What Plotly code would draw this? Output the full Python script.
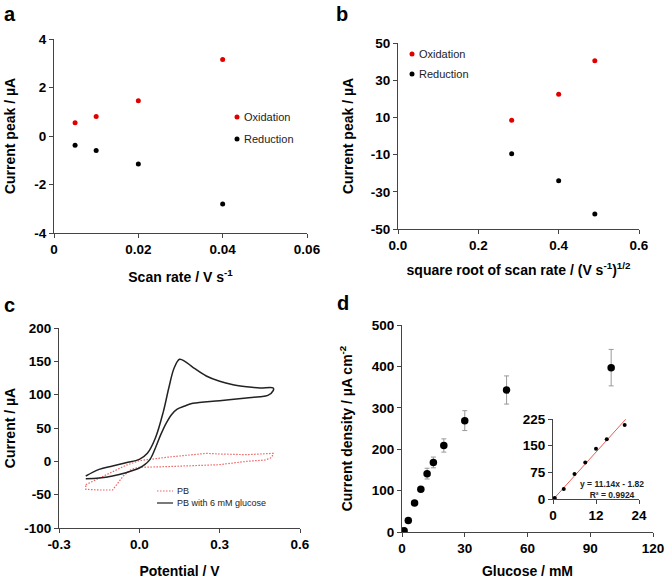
import plotly.graph_objects as go

# panel a - peak current vs scan rate
scan_rate = [0.005, 0.01, 0.02, 0.04]
ox_a = [0.55, 0.8, 1.45, 3.15]
red_a = [-0.38, -0.6, -1.15, -2.8]

# panel b - peak current vs sqrt(scan rate)
sqrt_rate = [0.283, 0.4, 0.49]
ox_b = [8.5, 22.5, 40.5]
red_b = [-9.5, -24.0, -42.0]

# panel c - cyclic voltammograms
pb_E = [-0.2, -0.15, -0.1, -0.05, 0.0, 0.05, 0.1, 0.15, 0.2, 0.25, 0.3, 0.35, 0.4, 0.45, 0.5,
        0.5, 0.49, 0.47, 0.4, 0.3, 0.2, 0.1, 0.0, -0.03, -0.06, -0.09, -0.1, -0.15, -0.2, -0.2]
pb_I = [-35, -25, -15, -6, 1, 4, 6, 8, 10, 12, 11, 10, 10, 11, 12,
        10, 5, 2, 0, -5, -7, -8, -9, -12, -22, -38, -43, -43, -42, -35]
glu_E = [-0.2, -0.15, -0.1, -0.05, 0.0, 0.03, 0.06, 0.09, 0.11, 0.13, 0.15, 0.17, 0.2, 0.25,
         0.3, 0.35, 0.4, 0.45, 0.5,
         0.5, 0.48, 0.45, 0.4, 0.3, 0.2, 0.17, 0.14, 0.12, 0.1, 0.08, 0.06, 0.04, 0.02, 0.0,
         -0.05, -0.1, -0.15, -0.2]
glu_I = [-22, -12, -7, -2, 3, 12, 35, 75, 110, 140, 153, 150, 141, 128,
         120, 115, 112, 110, 110,
         106, 99, 97, 95, 91, 87, 83, 78, 70, 57, 40, 20, 3, -5, -10,
         -17, -22, -25, -26]

# panel d - calibration
glucose = [0, 1, 3, 6, 9, 12, 15, 20, 30, 50, 100]
density = [2, 3, 28, 70, 103, 141, 168, 209, 269, 343, 397]
density_err = [0, 0, 0, 0, 0, 13, 13, 16, 24, 34, 44]
inset_x = [0, 0.5, 3, 6, 9, 12, 15, 20]
inset_y = [1, 3, 28, 70, 103, 141, 168, 208]
fit_slope, fit_icpt = 11.14, -1.82
fit_x = [0, 20.3]

# tick values / labels (plain hyphen minus as in the original)
a_xt = [0, 0.02, 0.04, 0.06]
a_xl = ["0", "0.02", "0.04", "0.06"]
a_yt = [-4, -2, 0, 2, 4]
a_yl = ["-4", "-2", "0", "2", "4"]
b_xt = [0, 0.2, 0.4, 0.6]
b_xl = ["0.0", "0.2", "0.4", "0.6"]
b_yt = [-50, -30, -10, 10, 30, 50]
b_yl = ["-50", "-30", "-10", "10", "30", "50"]
c_xt = [-0.3, 0, 0.3, 0.6]
c_xl = ["-0.3", "0.0", "0.3", "0.6"]
c_yt = [-100, -50, 0, 50, 100, 150, 200]
c_yl = ["-100", "-50", "0", "50", "100", "150", "200"]
d_xt = [0, 30, 60, 90, 120]
d_yt = [0, 100, 200, 300, 400, 500]
i_xt = [0, 12, 24]
i_yt = [0, 75, 150, 225]

FONT = "Arial, Liberation Sans, sans-serif"
RED = "#e00000"
W, H = 666, 579


def px(x0, x1, y0, y1):
    # convert pixel box into paper domains
    return [x0 / W, x1 / W], [1 - y1 / H, 1 - y0 / H]


fig = go.Figure()

fig.add_trace(go.Scatter(x=scan_rate, y=ox_a, mode="markers", name="Oxidation",
                         marker=dict(color=RED, size=5), xaxis="x", yaxis="y"))
fig.add_trace(go.Scatter(x=scan_rate, y=red_a, mode="markers", name="Reduction",
                         marker=dict(color="black", size=5), xaxis="x", yaxis="y"))

fig.add_trace(go.Scatter(x=sqrt_rate, y=ox_b, mode="markers", name="Oxidation",
                         marker=dict(color=RED, size=5), xaxis="x2", yaxis="y2"))
fig.add_trace(go.Scatter(x=sqrt_rate, y=red_b, mode="markers", name="Reduction",
                         marker=dict(color="black", size=5), xaxis="x2", yaxis="y2"))

PB_DASH = "1.5px,1.5px"
fig.add_trace(go.Scatter(x=pb_E, y=pb_I, mode="lines", name="PB",
                         line=dict(color="#f06060", width=1.2, dash=PB_DASH),
                         xaxis="x3", yaxis="y3"))
fig.add_trace(go.Scatter(x=glu_E, y=glu_I, mode="lines", name="PB with 6 mM glucose",
                         line=dict(color="#222222", width=1.5, shape="spline"),
                         xaxis="x3", yaxis="y3"))

fig.add_trace(go.Scatter(x=glucose, y=density, mode="markers",
                         marker=dict(color="black", size=7.5),
                         error_y=dict(type="data", array=density_err, color="#999999",
                                      thickness=1, width=2.5),
                         xaxis="x4", yaxis="y4"))

fig.add_trace(go.Scatter(x=fit_x, y=[fit_slope * v + fit_icpt for v in fit_x], mode="lines",
                         line=dict(color="#ee5a50", width=1), xaxis="x5", yaxis="y5"))
fig.add_trace(go.Scatter(x=inset_x, y=inset_y, mode="markers",
                         marker=dict(color="black", size=4), xaxis="x5", yaxis="y5"))

tick_font = dict(family=FONT, size=13.5, color="black", weight="bold")
title_font = dict(family=FONT, size=14, color="black", weight="bold")


def ax(dom, anchor, rng, tv, tl=None, title=None, standoff=6):
    d = dict(domain=dom, anchor=anchor, range=rng, tickvals=tv,
             ticktext=tl if tl else [str(v) for v in tv],
             showgrid=False, zeroline=False, showline=True, linecolor="#444444",
             linewidth=1, ticks="outside", ticklen=4, tickcolor="#444444",
             tickfont=tick_font, automargin=False)
    if title:
        d["title"] = dict(text=title, font=title_font, standoff=standoff)
    return d


xa, ya = px(54, 307, 39, 233)
xb, yb = px(398, 639, 43, 229)
xc, yc = px(59, 300, 328, 528)
xd, yd = px(402, 653, 325, 532)
xi, yi = px(553, 639, 419, 499)

fig.update_layout(
    width=W, height=H, margin=dict(l=0, r=0, t=0, b=0),
    plot_bgcolor="white", paper_bgcolor="white", showlegend=False,
    font=dict(family=FONT, color="black"),
    xaxis=ax(xa, "y", [0, 0.06], a_xt, a_xl, "Scan rate / V s<sup>-1</sup>", 15),
    yaxis=ax(ya, "x", [-4, 4], a_yt, a_yl, "Current peak / µA", 15),
    xaxis2=ax(xb, "y2", [0, 0.6], b_xt, b_xl,
              "square root of scan rate / (V s<sup>-1</sup>)<sup>1/2</sup>", 12),
    yaxis2=ax(yb, "x2", [-50, 50], b_yt, b_yl, "Current peak / µA", 13),
    xaxis3=ax(xc, "y3", [-0.3, 0.6], c_xt, c_xl, "Potential / V", 16),
    yaxis3=ax(yc, "x3", [-100, 200], c_yt, c_yl, "Current / µA", 5),
    xaxis4=ax(xd, "y4", [0, 120], d_xt, None, "Glucose / mM", 14),
    yaxis4=ax(yd, "x4", [0, 500], d_yt, None, "Current density / µA cm<sup>-2</sup>", 15),
    xaxis5=ax(xi, "y5", [0, 24], i_xt),
    yaxis5=ax(yi, "x5", [0, 225], i_yt),
)

letters = [("a", 2, 1), ("b", 334, 1), ("c", 2, 292), ("d", 335, 290)]
for txt, lx, ly in letters:
    fig.add_annotation(text=txt, x=lx / W, y=1 - ly / H, xref="paper", yref="paper",
                       xanchor="left", yanchor="top", showarrow=False,
                       font=dict(family=FONT, size=20, color="black", weight="bold"))

# marker legends for panels a and b
leg_ab = [("Oxidation", RED, 237, 117), ("Reduction", "black", 237, 139),
          ("Oxidation", RED, 412, 54), ("Reduction", "black", 412, 74)]
for name, col, lx, ly in leg_ab:
    fig.add_shape(type="circle", xref="paper", yref="paper",
                  x0=(lx - 2.5) / W, x1=(lx + 2.5) / W,
                  y0=1 - (ly + 2.5) / H, y1=1 - (ly - 2.5) / H,
                  fillcolor=col, line=dict(width=0))
    fig.add_annotation(text=name, x=(lx + 5) / W, y=1 - ly / H, xref="paper", yref="paper",
                       xanchor="left", yanchor="middle", showarrow=False,
                       font=dict(family=FONT, size=11, color="#222222"))

# line legend for panel c
leg_c = [("PB", "#f06060", PB_DASH, 491), ("PB with 6 mM glucose", "#222222", "solid", 503)]
for name, col, dash, ly in leg_c:
    fig.add_shape(type="line", xref="paper", yref="paper",
                  x0=157 / W, x1=173 / W, y0=1 - ly / H, y1=1 - ly / H,
                  line=dict(color=col, width=1.2, dash=dash))
    fig.add_annotation(text=name, x=175 / W, y=1 - ly / H, xref="paper", yref="paper",
                       xanchor="left", yanchor="middle", showarrow=False,
                       font=dict(family=FONT, size=9, color="#222222"))

fig.add_annotation(text="y = 11.14x - 1.82<br>R² = 0.9924", x=612 / W, y=1 - 489 / H,
                   xref="paper", yref="paper", showarrow=False, align="center",
                   xanchor="center", yanchor="middle",
                   font=dict(family=FONT, size=8.5, color="#222222", weight="bold"))

# drop the default page margin so the figure sits at the window's corner
fig.write_html("out.html", config={"displayModeBar": False},
               post_script="document.body.style.margin = '0';")
